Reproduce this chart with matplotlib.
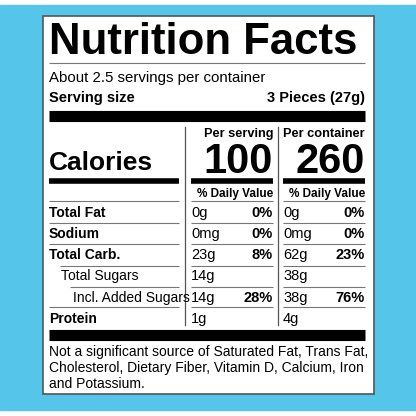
import matplotlib
matplotlib.use("Agg")
import matplotlib.pyplot as plt

fam = ['Liberation Sans', 'DejaVu Sans']

title = "Nutrition Facts"
servings_text = "About 2.5 servings per container"
serving_size = "3 Pieces (27g)"
col_heads = ["Per serving", "Per container"]
calories = ["100", "260"]
rows = ["Total Fat", "Sodium", "Total Carb.", "Total Sugars", "Incl. Added Sugars", "Protein"]
row_bold = [True, True, True, False, False, True]
row_indent = [0, 0, 0, 1, 2, 0]
serv_amt = ["0g", "0mg", "23g", "14g", "14g", "1g"]
serv_dv = ["0%", "0%", "8%", "", "28%", ""]
cont_amt = ["0g", "0mg", "62g", "38g", "38g", "4g"]
cont_dv = ["0%", "0%", "23%", "", "76%", ""]
footnote = ["Not a significant source of Saturated Fat, Trans Fat,",
            "Cholesterol, Dietary Fiber, Vitamin D, Calcium, Iron",
            "and Potassium."]

fig = plt.figure(figsize=(4.16, 4.16), dpi=100)
ax = fig.add_axes([0, 0, 1, 1])
ax.set_xlim(0, 416); ax.set_ylim(416, 0); ax.axis('off')
blue = '#56c5ea'
ax.add_patch(plt.Rectangle((0, 5), 416, 405, color=blue, zorder=0))
ax.add_patch(plt.Rectangle((43, 16), 331, 378, facecolor='white', edgecolor='#555555', lw=1.2, zorder=1))

L, R = 49, 365
C1L, C1R, C2L, C2R = 191, 273, 283, 365

def t(x, y, s, size, bold=False, ha='left'):
    ax.text(x, y, s, fontsize=size, fontweight='bold' if bold else 'normal', family=fam,
            ha=ha, va='baseline', color='black', zorder=3)

def hl(y, x0, x1, lw, c='black'):
    ax.plot([x0, x1], [y, y], color=c, lw=lw, solid_capstyle='butt', zorder=2)

t(L, 54, title, 31.5, True)
hl(63, L, R, 0.8, '#777777')
t(L, 82, servings_text, 10.8)
t(L, 102, "Serving size", 10.5, True)
t(R, 102, serving_size, 10.5, True, 'right')
hl(115.5, L, R, 8)
for x in (185, 278):
    ax.plot([x, x], [127, 325], color='#555555', lw=0.9, zorder=2)
t(C1R, 137, col_heads[0], 9.2, True, 'right')
t(C2R, 137, col_heads[1], 9.2, True, 'right')
t(L, 170, "Calories", 19, True)
t(C1R, 173, calories[0], 30, True, 'right')
t(C2R, 173, calories[1], 30, True, 'right')
for a, b in ((L, 179), (C1L, C1R), (C2L, C2R)):
    hl(180.5, a, b, 4)
    hl(201, a, b, 0.8, '#777777')
t(C1R, 197, "% Daily Value", 8.5, True, 'right')
t(C2R, 197, "% Daily Value", 8.5, True, 'right')

bases = [217, 238, 259, 280, 302, 323]
lines_y = [223, 244, 266, 287, 307]
line_start = [L, L, 60, 70, L]
for i, r in enumerate(rows):
    y = bases[i]
    t(L + row_indent[i] * 12, y, r, 10, row_bold[i])
    t(C1L, y, serv_amt[i], 10.5)
    t(C1R, y, serv_dv[i], 10.5, True, 'right')
    t(C2L, y, cont_amt[i], 10.5)
    t(C2R, y, cont_dv[i], 10.5, True, 'right')
for y, s in zip(lines_y, line_start):
    hl(y, s, 179, 0.8, '#777777')
    hl(y, C1L, C1R, 0.8, '#777777')
    hl(y, C2L, C2R, 0.8, '#777777')
hl(335, L, R, 8)
for i, f in enumerate(footnote):
    t(L, 356 + i * 16, f, 10)

fig.savefig("out.png", dpi=100)
